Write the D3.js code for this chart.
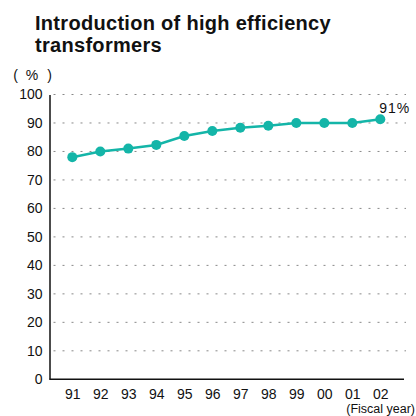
<!DOCTYPE html>
<html><head><meta charset="utf-8">
<script src="https://cdn.jsdelivr.net/npm/d3@7"></script>
<style>body{margin:0;background:#fff}svg{display:block}</style>
</head><body>
<svg id="c" width="416" height="416"></svg>
<script>
const years = ["91","92","93","94","95","96","97","98","99","00","01","02"];
const values = [78, 80, 81, 82.3, 85.4, 87.2, 88.3, 89, 90, 90, 90, 91.3];
const yTicks = [0,10,20,30,40,50,60,70,80,90,100];
const titleLines = ["Introduction of high efficiency", "transformers"];
const unitParts = ["(", "%", ")"];
const lastLabel = "91%";

const svg = d3.select("#c");
const font = "'Liberation Sans', Arial, sans-serif";
const teal = "#14b5a8";

const x = d3.scalePoint().domain(years).range([72.3, 380.3]);
const y = d3.scaleLinear().domain([0,100]).range([379.3, 94.5]);
const axisLeft = 49.5, axisRight = 404;

// title
svg.append("g").selectAll("text").data(titleLines).join("text")
  .attr("x", 35).attr("y", (d,i)=>29.5 + i*22.5)
  .attr("font-family", font).attr("letter-spacing", 0.3)
  .attr("font-weight", "bold").attr("font-size", 20).attr("fill", "#111")
  .text(d=>d);

const unitX = [15.5, 32, 49.5];
svg.append("g").selectAll("text").data(unitParts).join("text")
  .attr("x", (d,i)=>unitX[i]).attr("y", 80).attr("text-anchor","middle")
  .attr("font-family", font).attr("font-size", 14).attr("fill","#111").text(d=>d);

// grid
svg.append("g").selectAll("line").data(yTicks.filter(d=>d>0)).join("line")
  .attr("x1", axisLeft+4).attr("x2", axisRight+2)
  .attr("y1", d=>y(d)).attr("y2", d=>y(d))
  .attr("stroke", "#888").attr("stroke-width", 1).attr("stroke-dasharray", "2,7");

// y axis
const ya = svg.append("g").attr("transform", `translate(${axisLeft},0)`)
  .call(d3.axisLeft(y).tickValues(yTicks).tickSize(0).tickPadding(7));
ya.select(".domain").attr("stroke","#111").attr("stroke-width",1.5);
ya.selectAll("text").attr("font-family", font).attr("font-size", 14).attr("fill","#111");

// x axis
const xa = svg.append("g").attr("transform", `translate(0,${y(0)})`)
  .call(d3.axisBottom(x).tickSize(0).tickPadding(10));
xa.select(".domain").remove();
xa.selectAll("text").attr("font-family", font).attr("font-size", 14).attr("fill","#111");
svg.append("line").attr("x1", axisLeft).attr("x2", axisRight).attr("y1", y(0)).attr("y2", y(0))
  .attr("stroke","#111").attr("stroke-width",1.5);

svg.append("text").attr("x", 415).attr("y", 413).attr("text-anchor","end")
  .attr("font-family", font).attr("font-size", 12.5).attr("fill","#111").text("(Fiscal year)");

// line
svg.append("path").datum(values)
  .attr("d", d3.line().x((d,i)=>x(years[i])).y(d=>y(d)))
  .attr("fill","none").attr("stroke", teal).attr("stroke-width", 2.5);
svg.append("g").selectAll("circle").data(values).join("circle")
  .attr("cx", (d,i)=>x(years[i])).attr("cy", d=>y(d)).attr("r", 5).attr("fill", teal);

svg.append("text").attr("x", x(years[years.length-1])-1).attr("y", 112.7)
  .attr("font-family", font).attr("font-size", 14).attr("fill","#111")
  .attr("letter-spacing", 1).text(lastLabel);
</script>
</body></html>
